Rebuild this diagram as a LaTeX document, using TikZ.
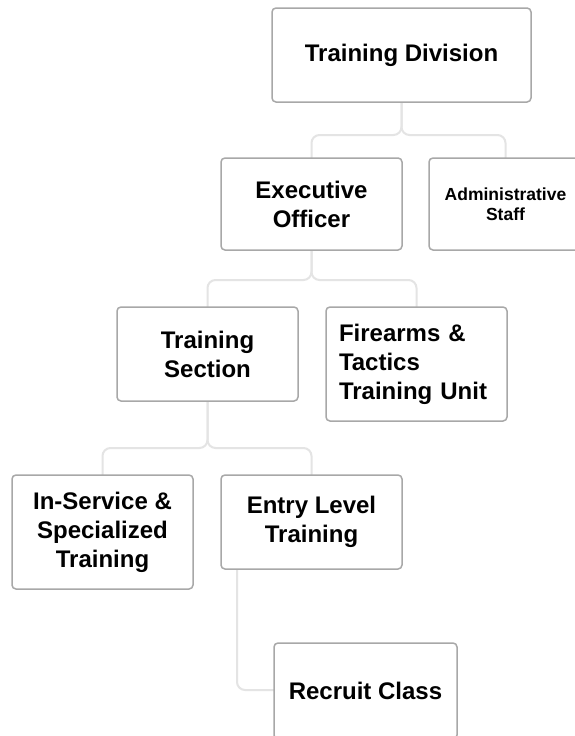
\documentclass[tikz,border=0pt]{standalone}
\usepackage{fontspec}
\setmainfont{Liberation Sans}
\begin{document}
\begin{tikzpicture}[x=1pt,y=-1pt,
  box/.style={draw=boxgray,line width=1.5pt,rounded corners=4pt,fill=white,
    align=center,inner sep=0pt,font=\bfseries\fontsize{24}{29}\selectfont},
  conn/.style={draw=conngray,line width=2pt,rounded corners=8pt}]
\definecolor{boxgray}{HTML}{A8A8A8}
\definecolor{conngray}{HTML}{E4E4E4}
\clip (0,0) rectangle (575,736);
\fill[white] (0,0) rectangle (575,736);
% connectors first (boxes drawn over)
\coordinate (tds) at (401.5,102);
\coordinate (eos) at (311.5,250);
\coordinate (tss) at (207.5,401);
\coordinate (elb) at (237,569);
\coordinate (rcw) at (274,690);
\coordinate (eon) at (311.5,158);
\coordinate (asn) at (505.5,158);
\coordinate (tsn) at (207.5,307);
\coordinate (fan) at (416.5,307);
\coordinate (isn) at (102.5,475);
\coordinate (eln) at (311.5,475);
\draw[conn] (tds) -- ++(0,33) -| (eon);
\draw[conn] (tds) -- ++(0,33) -| (asn);
\draw[conn] (eos) -- ++(0,30) -| (tsn);
\draw[conn] (eos) -- ++(0,30) -| (fan);
\draw[conn] (tss) -- ++(0,47) -| (isn);
\draw[conn] (tss) -- ++(0,47) -| (eln);
\draw[conn] (elb) |- (rcw);
% boxes
\node[box,minimum width=259pt,minimum height=94pt] (TD) at (401.5,55) {Training Division};
\node[box,minimum width=181pt,minimum height=92pt] (EO) at (311.5,204) {Executive\\Officer};
\node[box,minimum width=153pt,minimum height=92pt,font=\bfseries\fontsize{17.5}{20}\selectfont] (AS) at (505.5,204) {Administrative\\Staff};
\node[box,minimum width=181pt,minimum height=94pt] (TS) at (207.5,354) {Training\\Section};
\node[box,minimum width=181pt,minimum height=114pt,align=left,text width=155pt,inner xsep=13pt] (FA) at (416.5,364) {Firearms \&\\Tactics\\Training Unit};
\node[box,minimum width=181pt,minimum height=114pt] (IS) at (102.5,532) {In-Service \&\\Specialized\\Training};
\node[box,minimum width=181pt,minimum height=94pt] (EL) at (311.5,522) {Entry Level\\Training};
\node[box,minimum width=183pt,minimum height=96pt] (RC) at (365.5,691) {Recruit Class};
\end{tikzpicture}
\end{document}
